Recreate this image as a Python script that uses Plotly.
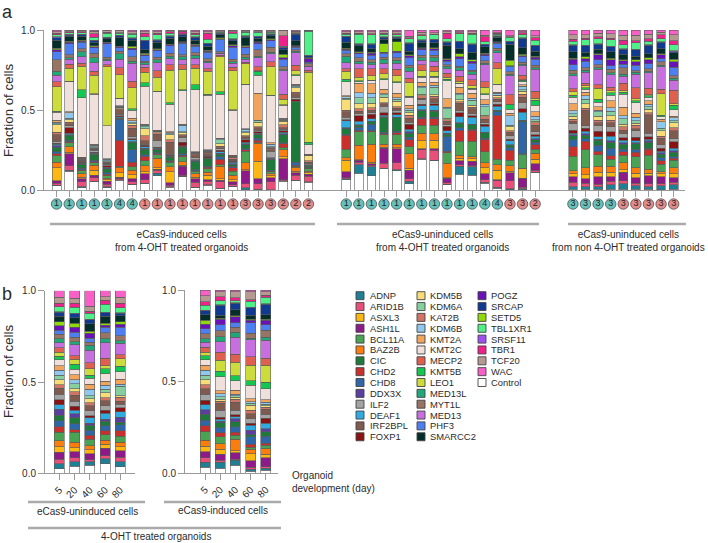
import plotly.graph_objects as go

W, H = 708, 543
genes = ["Control","ADNP","ARID1B","ASH1L","ASXL3","BAZ2B","BCL11A","CHD2","CHD8","CIC","DDX3X","DEAF1","FOXP1","ILF2","IRF2BPL","KAT2B","KDM5B","KDM6A","KDM6B","KMT2A","KMT2C","KMT5B","LEO1","MECP2","MED13","MED13L","MYT1L","PHF3","POGZ","SETD5","SMARCC2","SRCAP","SRSF11","TBL1XR1","TBR1","TCF20","WAC"]
colors = {"Control":"#ffffff","ADNP":"#1f7f95","ARID1B":"#e8507a","ASH1L":"#8e1a8a","ASXL3":"#fcb712","BAZ2B":"#fb7d0c","BCL11A":"#4aa352","CHD2":"#c9302c","CHD8":"#2f66a8","CIC":"#1e7a3a","DDX3X":"#5a3fa0","DEAF1":"#2fabe0","FOXP1":"#8a1212","ILF2":"#a3a3a3","IRF2BPL":"#7f5a4e","KAT2B":"#d07565","KDM5B":"#f8dc78","KDM6A":"#86d0a0","KDM6B":"#8fc8ec","KMT2A":"#f0a45c","KMT2C":"#efe0dc","KMT5B":"#12c850","LEO1":"#ccdc3c","MECP2":"#e0604f","MED13":"#c86fe0","MED13L":"#20a878","MYT1L":"#967565","PHF3":"#4d7ff0","POGZ":"#6a12b8","SETD5":"#8fd80a","SMARCC2":"#042e2a","SRCAP":"#103a90","SRSF11":"#a050f0","TBL1XR1":"#50f088","TBR1":"#f0208c","TCF20":"#b49a90","WAC":"#f860c8"}
legend_col1 = ["ADNP","ARID1B","ASXL3","ASH1L","BCL11A","BAZ2B","CIC","CHD2","CHD8","DDX3X","ILF2","DEAF1","IRF2BPL","FOXP1"]
legend_col2 = ["KDM5B","KDM6A","KAT2B","KDM6B","KMT2A","KMT2C","MECP2","KMT5B","LEO1","MED13L","MYT1L","MED13","PHF3","SMARCC2"]
legend_col3 = ["POGZ","SRCAP","SETD5","TBL1XR1","SRSF11","TBR1","TCF20","WAC","Control"]

# each row: one bar, values in gene order above (percent)
induced_a = [
[2.5,.5,1,1.5,8,3.5,4,1,1.5,2.5,1,1,.7,1,4,1.5,4.5,.8,1,1,5,.5,15,3,4,2.5,7,5,1,1,5,1.5,.7,1,1,1,1],
[12,.5,3,7.5,1,3.5,2.5,.7,1,3,.5,1,3.5,1,1.5,1,1.5,1,3.5,.5,19,.3,8.5,2.5,3,1,2,7,1,.5,3,1,.5,1,.5,.7,.5],
[1.5,.5,3,2,1,2,2,.7,.7,2.5,.3,.5,.5,.5,.8,.5,.3,.3,.5,.3,37,5,14.5,2,4,3,2,4,.5,.5,2.5,1,.3,1,.5,.7,.5],
[5,.3,2,1.5,3,3,1.5,.7,.7,3.5,.3,.5,.7,1,.8,.5,.3,.5,1,.5,30,.3,11,2.5,5,3,2.5,3.5,.5,.5,2,1,.3,2,2,1.5,.7],
[1.5,.5,1.5,2,1,1,1.5,1,1,2.5,.5,.5,1,.5,1,.5,.5,.5,1,.3,21,.2,37.5,1,2.5,1,1.5,8.5,.5,.5,2,1,.2,2.5,.5,1,.5],
[5.5,.3,.7,1,2.5,3,.7,15,12,.7,.3,.5,.5,1,2.5,.7,.5,.3,.5,.5,4,.3,13.5,4,5,3,1.5,2,.5,.5,5,1,.3,1,.5,1,.5],
[3,.3,1.5,1.5,2.5,2.5,2,2.5,7,4.5,.3,1,.7,1,5,1.5,1,.5,1,1.5,4.5,1,12,3.5,10.5,1,2.5,4,1,1,3.5,1,.3,2,.5,1,1],
[3.5,.5,2,3.5,1,3.5,3,2.5,1,3,.5,1,1,.5,2,3,4,1,1,.5,22,2,6,3,1.5,1,1,3,.7,1,2,5,.3,2,2,1,1],
[9,1.5,2,.5,1,6,2,.7,.5,2,.3,.7,.7,4,4,1,.5,.3,.5,.3,24,.3,9,4,5,2,1.5,4,.7,.5,4,1.5,.3,3,1,1,1],
[1.5,.3,1,1.5,6.5,3,2.5,.5,.5,2,.3,.3,.5,.7,7,1.5,3,.5,.7,.5,16,1,19,3.5,3.5,1.5,1.5,4.5,.5,.5,3.5,1,.3,1.5,1,.5,.5],
[8,.3,.5,5.5,.7,2,3,1,.7,4,.5,.5,2,3,1,.7,1,.7,4,.5,20,.7,12.5,2.5,3,2,1,7,.5,.5,3,1,.3,.5,1,.5,.7],
[1.5,.3,3,2,1,2,1.5,.5,.5,5,.3,.5,.5,1,2,.5,.3,.3,.3,.3,38,3,10,2,4,2,1.5,4,.5,.5,2.5,2,.3,1,1,1,1],
[3,.3,2,1,2.5,2,2,1,.5,4.5,.3,.5,.7,.7,1,.7,.5,.3,.5,.3,33,.5,14,1.5,3.5,1,1.5,4,.5,.5,2.5,1.5,.3,2.5,3.5,1,1],
[.7,.3,4,1,1,7.5,1,3.5,1.5,1.5,.5,1,1,1,.5,1,1.5,2.5,.5,.3,27,1.5,21.5,1,1,.3,1,7.5,.5,.5,2,.5,.3,.5,.5,.5,.5],
[2,.3,1,2,1,3,2.5,2,1,1,.5,1,.5,.5,1,1,.5,.3,.3,.3,28,.3,24.5,2,2.5,1,1.5,7.5,1,.5,2.5,1,.3,3.5,1,.5,.5],
[.3,1,2.5,8,.7,4.5,7,1,.5,2.5,.5,1,1.5,1,1,.5,2,.5,1.5,.5,27,.5,12.5,1,2,1,2,4,.7,.5,5,1,.3,2,.5,.5,.5],
[.3,.1,3.5,3,11,11,.7,1.5,1.5,2,.5,.5,1,1,1.5,.5,3,.7,.5,17,11,2.5,.5,2.5,5.5,1,4,4,.7,.5,2,1,.3,2.5,.5,.5,.5],
[.1,.1,5,2.5,1,1.5,1,.5,.5,6.5,.3,.5,.5,4,1,.7,.7,.3,1.5,1,29,.5,17.5,3,5,1,3,4,.7,.5,2,1,.3,.7,.5,.5,.5],
[5.5,.3,.5,13,1,4.5,1,2.5,.7,5,.5,1,1,.7,1,2,2,.5,.7,.5,8,.3,3.5,3,14.5,.5,2,4.5,1,2,3,1,.3,.7,6.5,3,.5],
[6,.3,3,1.5,1,2.5,.7,.5,2,38,.3,.3,1,1.5,2,1,3,.5,1,.5,5.5,.5,2.5,3.5,8,1,1,1.5,.5,.5,3,4,.3,.3,.5,1,.7],
[5,.3,3.5,1,1,1,1.5,.3,.3,1,.3,.3,.5,.5,1,1,3,.3,.3,.5,6,1.5,44,1.5,2,.5,1.5,1,2,.5,.5,1,.3,15,.3,.3,.3],
]
uninduced_a = [
[6,.5,.5,3.5,6.5,1.5,5,8,.7,3,.5,4,.7,1.5,3,1,6,1,.7,.7,8,1.5,4.5,1.5,3.5,3.5,1.5,2,.7,.5,3.5,3,.5,1,.5,1,1],
[10,5,1.5,1,.5,8.5,8,.7,2,1,.3,2,3.5,1,1.5,1.5,3,3.5,3,5.5,1,.5,2,5,3,1.5,2,2.5,.7,.5,3.5,1,.3,5.5,.5,1,1],
[8,5,1,.7,1,10,7,.7,3.5,1.5,.3,1.5,2.5,.7,1.5,1.5,2.5,3,2.5,5.5,1.5,.5,2.5,4,2,1.5,1.5,2.5,1,.7,2,2.5,.3,5,.7,1,1],
[13,.3,3,9,.7,2,5.5,.7,1,9,.3,1,1.5,4,1.5,.5,3.5,1.5,.7,2.5,6,.5,3,3,3.5,2.5,1,2.5,.7,5,3,1,.3,1.5,.7,1,1],
[11,.3,4,8,.5,2,5.5,1,1,7.5,.3,1.5,1,1.5,1,1,3,1,1,2.5,6,.5,3.5,3.5,3.5,1.5,1.5,3,.7,5.5,1.5,1,.3,1,.7,1,1],
[3.5,1.5,1.5,5,1,8.5,4,4,1.5,2.5,.7,1.5,3,1,2.5,1.5,1.5,1.5,1,2,4.5,.5,8,2.5,4,2,1.5,4.5,1,.7,2,4.5,.3,2.5,.5,1,3.5],
[19,.3,5.5,.5,5,4.5,5,4,1,4,.5,2.5,1,2.5,1,1.5,1,4,1,2.5,3,.5,3.5,3.5,3,1.5,1.5,3.5,.7,.5,3,1.5,.3,2.5,.5,1.5,1.5],
[17.5,.3,6,1,5,4,5,4,1,3.5,.5,3,1,1,2,1.5,1,4.5,1,2,3,.5,3,3,3,2,1.5,3,1,.5,3,2,.3,2.5,.5,1,1.5],
[3,.3,1,2.5,.5,8.5,6,1,8.5,1.5,.5,1.5,2.5,1,2,1,.7,5.5,1,5,10.5,1,1,2.5,2.5,1.5,1,2,1,.5,8,1.5,.3,2,3,1,1],
[9.5,4.5,1,2.5,1.5,1.5,8.5,6.5,1.5,2.5,.5,3.5,2.5,1,4.5,1,1,3,1,3.5,2,.5,1,3,3.5,1.5,1,4.5,1,2,3,4,.3,4.5,.5,.7,1],
[8.5,5,.7,2.5,1.5,1,9,6.5,.7,2.5,.3,4,1,1,3,1,1,3,1,3,2.5,.5,1.5,3.5,3,1.5,1,4,1,1,4.5,4.5,.3,5.5,.5,1,1],
[4,.5,1.5,3.5,3.5,3,6.5,7,1,3,.5,3.5,1,1,2,1.5,1,5,1.5,2.5,3,.5,4,3,10,1,1.5,3,.7,.5,4,1,.3,1.5,3,1,3],
[1,.5,4,.5,5.5,3.5,3,26,2,.5,.3,2.5,1,1.5,1.5,1,1,.5,1,.7,4.5,.3,9,3.5,6,1,1.5,3,.5,.5,2.5,.5,.3,1,.5,.5,1.5],
[.3,.5,5,5,1,3.5,3.5,6.5,1.5,1.5,.5,2.5,.7,2.5,2,1,2.5,1,6,1.5,2.5,3,.3,6,12,1,1.5,3.5,.5,3.5,10,1.5,.3,2.5,.5,.7,3.5],
[.3,.5,1,6,6,.5,9,.5,21,.5,.5,5,2.5,4,3.5,2,2,1,2,1,2,1,.5,3,6,1,1.5,3.5,.5,1,4.5,6,.3,2,1.5,.7,1],
[10,.5,1,4,2.5,3.5,2.5,2.5,1.5,1.5,.5,1.5,1,1.5,4,1.5,.7,1,2,2.5,4,3,1,4,13,1,1.5,3.5,1,.7,3,3,.3,3,1.5,1,3.5],
]
non_treated_a = [
[.3,1.5,2.5,3,1.5,1.5,8,5,4,2,.5,1,1.5,3.5,1.5,1,1.5,1.5,1.5,4,3.5,1,2,1.5,7,1,2,3,3,.5,3.5,3.5,.3,2,1,2.5,2.5],
[.3,1.5,2,2.5,2,4,10,4.5,1.5,2,.7,1.5,1.5,1.5,8.5,1,2.5,2.5,2,2,1.5,1,1,1.5,6,1,1.5,3.5,1.5,1,2.5,3.5,.3,3,1,2,2.5],
[.3,1.5,1.5,4.5,2.5,3.5,7,2,3.5,3,.5,1.5,3,3.5,1.5,1.5,2.5,2.5,1,2,2.5,2,6.5,2,9,1,1.5,3,3,.7,2.5,3,.3,3,1,2,2],
[.3,2.5,2,2.5,2.5,3.5,4,2,4,3.5,.7,2.5,2.5,3,2,1.5,2.5,2.5,2,4,3,1.5,1,2,7,1,2,2,3.5,.7,3.5,3,.3,3.5,1,2.5,2],
[.3,3.5,1.5,5,1.5,4,4.5,2,1.5,3,.7,1.5,1.5,2.5,2,2,1.5,3,2,5,7.5,1,1,4.5,4,1,4,2,2,.7,3,3,.3,2.5,2.5,3,3],
[.3,2,1.5,3,2.5,3,6,2.5,1.5,3,.7,1,2,3.5,1,2,1,1.5,2,2,6,1,1,6,7.5,1,1,3,2,1,2,3.5,.3,3.5,1,3,3],
[.3,1.5,2,4.5,1.5,2.5,8,3.5,.7,3.5,.7,1,1.5,2,11,1,2,1.5,1.5,2,2,1,1,3.5,9,.7,1.5,3,2.5,1,2.5,5,.3,2,1.5,2.5,2.5],
[.3,2.5,1,4.5,2,1,5,2,2,2,1,1,2,2,4,1.5,3.5,1.5,4,1.5,1.5,1,13.5,3,14,1,2,2,2.5,.7,3,4,.3,2,2.5,1.5,1.5],
[.3,2.5,1.5,2.5,2,3.5,4,1,1,2.5,.7,1.5,3.5,1.5,4.5,1.5,3,1,1.5,1,3.5,2.5,.7,7.5,5.5,1,1.5,4.5,3,1.5,3.5,.7,.3,3.5,2,3.5,2.5],
]
uninduced_b = [
[2.5,2.5,2.5,3.5,3,3,4.5,3,3,3,3,2.5,2.5,3,3,2,2.5,2.5,2.5,2.5,3,2,2,2.5,2.5,2,2.5,2,2.5,2,3,2,.3,2.5,2,3,3.5],
[3.5,2.5,2,3,2,3,5,1.5,3,3,2,2,2,2.5,3,2,1.5,2.5,2,2.5,3,2.5,2.5,2,5.5,1.5,2.5,2.5,2.5,2,3,2,.3,3,2,2.5,4],
[4,2,1,3,2,2,3.5,2,2.5,2.5,1,3,1,2.5,2.5,1.5,2,1.5,3.5,2.5,3,1.5,3.5,3,6.5,2.5,1.5,2,2.5,1,4,2,.3,3,1,2.5,8],
[5,2.5,1.5,4,2,2,3,2,2.5,2.5,1,3,1.5,2.5,2.5,1.5,2.5,2,2,2,4,2.5,1.5,4,8,2,3,3,1,1,3.5,2,.3,4,2,2,3],
[3.5,2.5,2.5,3.5,2,2.5,3,3,3,1.5,2.5,3,2,2,1.5,2,1,5,1,2.5,4,3,4,2,6,1.5,2.5,4.5,1.5,1.5,3,1.5,.3,2.5,2.5,3,3.5],
]
induced_b = [
[3,2.5,2.5,3,3,3,4.5,3,3,3,2.5,2.5,2.5,3,3,2,2.5,2.5,2.5,2.5,3,2,2,2.5,2.5,2,2.5,2.5,2.5,2,3,2,.3,2.5,2,3,3],
[2.5,3,1,3,2.5,3,3.5,2,2.5,2.5,1,1,1,3.5,3.5,1,1,1.5,1.5,1.5,7,3,5.5,4,5.5,2.5,3,3,3,.5,1.5,5,.3,2,2,2.5,1],
[4,2.5,.5,3.5,1,6,2,1.5,3,2.5,1.5,1,1,2.5,4,1.5,1,1,.7,2,5,2.5,7,4,9,2.5,2.5,2.5,3,.5,3,3.5,.3,1,1.5,3,1],
[1,1,1,3.5,3.5,2.5,1,1.5,4,1,2.5,2.5,1,2.5,2.5,2,2.5,1,1,1.5,7,2.5,8,4.5,9,.7,2.5,5.5,1.5,.5,2,4,.3,3,1,4,1],
[1.5,1,1,5,2,3,2,1,4,2.5,1.5,3,3,2,3,1,.7,1,1,1.5,6,3.5,9.5,4,10,1.5,4,3,2.5,.5,2.5,6,.3,3.5,1,2,1],
]
days = ["5","20","40","60","80"]
circle_digits = [1,1,1,1,1,4,4,1,1,1,1,1,1,1,1,3,3,3,2,2,2, 1,1,1,1,1,1,1,1,1,1,1,4,4,3,3,2, 3,3,3,3,3,3,3,3,3]
circle_groups = ["t"]*7+["s"]*14+["t"]*13+["s"]*3+["t"]*4+["s"]*5
circle_colors = {"t":"#67c1bb","s":"#e28b8b"}

FONT = "Liberation Sans, Arial, sans-serif"
TXT = "#2b2b2b"
AXC = "#9a9a9a"
EDGE = "#5a5a5a"

def X(p): return p/W
def Y(p): return 1-p/H

# panel a category slots, two blank slots between groups
ids_ind = [f"i{i}" for i in range(len(induced_a))]
ids_uni = [f"u{i}" for i in range(len(uninduced_a))]
ids_non = [f"n{i}" for i in range(len(non_treated_a))]
slots = ids_ind+["g1","g2"]+ids_uni+["g3","g4"]+ids_non
bar_ids = ids_ind+ids_uni+ids_non
rows_a = induced_a+uninduced_a+non_treated_a

fig = go.Figure()
for j,g in enumerate(genes):
    fig.add_bar(x=bar_ids,y=[r[j] for r in rows_a],width=.7,name=g,showlegend=False,
                marker=dict(color=colors[g],line=dict(color=EDGE,width=.6)))
    fig.add_bar(x=days,y=[r[j] for r in uninduced_b],width=.66,name=g,showlegend=False,xaxis="x2",yaxis="y2",
                marker=dict(color=colors[g],line=dict(color=EDGE,width=.6)))
    fig.add_bar(x=days,y=[r[j] for r in induced_b],width=.66,name=g,showlegend=False,xaxis="x3",yaxis="y3",
                marker=dict(color=colors[g],line=dict(color=EDGE,width=.6)))

# batch badges below the bars, on their own thin hidden y axis
fig.add_scatter(x=bar_ids,y=[.5]*len(bar_ids),mode="markers+text",text=[str(d) for d in circle_digits],yaxis="y4",
    textposition="middle center",textfont=dict(size=9,color="#222",family=FONT),cliponaxis=False,showlegend=False,
    marker=dict(size=10.5,color=[circle_colors[c] for c in circle_groups],line=dict(color="#444",width=.7)))

axis_common = dict(showline=True,linecolor=AXC,linewidth=1,ticks="outside",tickcolor=AXC,ticklen=6,tickwidth=1,
                   showgrid=False,zeroline=False,tickfont=dict(size=10,color=TXT,family=FONT))
yticks = dict(tickmode="array",tickvals=[0,.5,1],ticktext=["0.0","0.5","1.0"],range=[0,1])

annotations = []
def text(px,py,s,size=10,anchor="center",angle=0):
    annotations.append(dict(x=X(px),y=Y(py),xref="paper",yref="paper",text=s,showarrow=False,xanchor=anchor,yanchor="middle",
        align=anchor if anchor!="center" else "center",textangle=angle,borderpad=0,font=dict(size=size,color=TXT,family=FONT)))
text(1,12,"a",18,"left"); text(1,294,"b",18,"left")
text(8,111,"Fraction of cells",13.3,angle=-90); text(8,372,"Fraction of cells",13.3,angle=-90)
text(181,241.5,"eCas9-induced cells<br>from 4-OHT treated organoids")
text(442,241.5,"eCas9-uninduced cells<br>from 4-OHT treated organoids")
text(628,241.5,"eCas9-uninduced cells<br>from non 4-OHT treated organoids")
text(87,511,"eCas9-uninduced cells"); text(223,510,"eCas9-induced cells"); text(156,536,"4-OHT treated organoids")
text(291,482,"Organoid<br>development (day)",anchor="left")

shapes = []
def rule(x0,x1,py):
    shapes.append(dict(type="line",xref="paper",yref="paper",x0=X(x0),x1=X(x1),y0=Y(py),y1=Y(py),line=dict(color="#aaaaaa",width=2.4)))
rule(50,315,224); rule(337,539,224); rule(568,686,224); rule(28,145,502); rule(164,281,502); rule(28,281,528)

for col,(sx,tx) in zip((legend_col1,legend_col2,legend_col3),((356,369),(417,429),(478,490))):
    for i,g in enumerate(col):
        cy = 295.7+i*10.85
        shapes.append(dict(type="rect",xref="paper",yref="paper",x0=X(sx),x1=X(sx+8),y0=Y(cy-4),y1=Y(cy+4),
                           fillcolor=colors[g],line=dict(color="#444444",width=.9)))
        text(tx,cy,g,9.4,"left")

fig.update_layout(width=W,height=H,margin=dict(l=0,r=0,t=0,b=0,autoexpand=False),paper_bgcolor="white",plot_bgcolor="white",
    barmode="stack",barnorm="fraction",showlegend=False,annotations=annotations,shapes=shapes,
    xaxis=dict(domain=[X(44),X(685)],type="category",categoryorder="array",categoryarray=slots,range=[-1,49.9],
               tickmode="array",tickvals=bar_ids,ticktext=[""]*len(bar_ids),anchor="y",**axis_common),
    yaxis=dict(domain=[Y(190),Y(30)],anchor="x",**yticks,**axis_common),
    yaxis4=dict(domain=[Y(212),Y(196)],range=[0,1],visible=False,anchor="free",position=0),
    xaxis2=dict(domain=[X(45),X(135)],type="category",categoryorder="array",categoryarray=days,range=[-.95,4.97],
                tickangle=-45,anchor="y2",**axis_common),
    yaxis2=dict(domain=[Y(473.3),Y(290.7)],anchor="x2",**yticks,**axis_common),
    xaxis3=dict(domain=[X(185),X(278)],type="category",categoryorder="array",categoryarray=days,range=[-1.32,4.8],
                tickangle=-45,anchor="y3",**axis_common),
    yaxis3=dict(domain=[Y(473),Y(290)],anchor="x3",**yticks,**axis_common),
)
fig.write_html("out.html",config=dict(displayModeBar=False),post_script="document.body.style.margin='0';document.body.style.overflow='hidden';")
